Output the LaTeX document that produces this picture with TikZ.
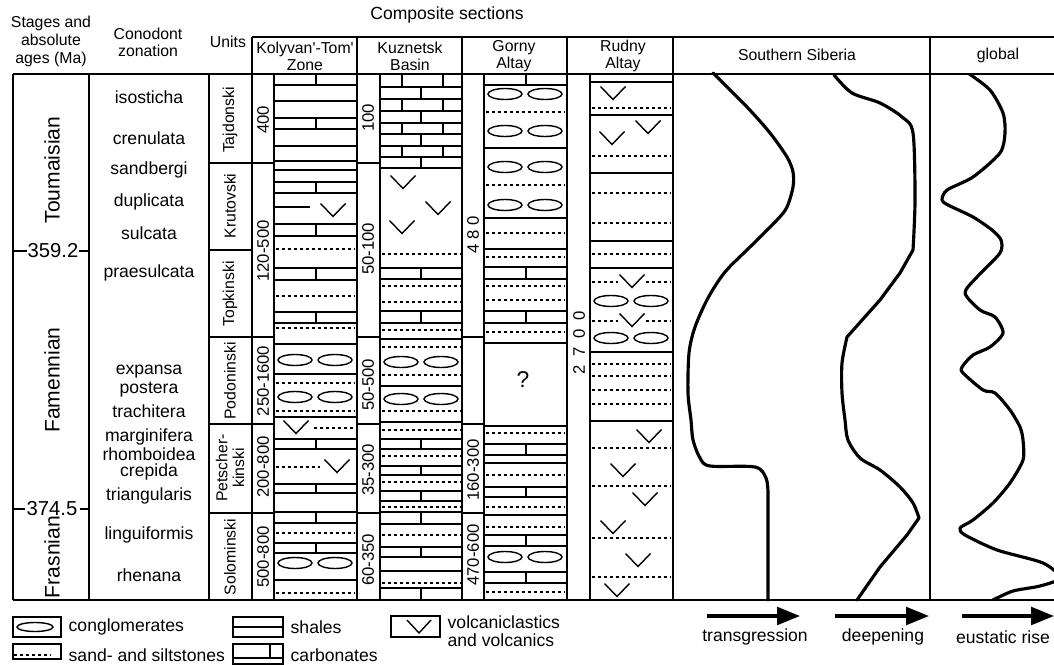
\documentclass[tikz,border=0pt]{standalone}
\usepackage{fontspec}
\setmainfont{Liberation Sans}
\usetikzlibrary{arrows.meta}
% litho symbols, column-local coordinates
\newcommand{\cgl}[1]{\draw (21,#1) ellipse (17 and 5.5); \draw (61,#1) ellipse (17 and 5.5);}
\newcommand{\vlc}[2]{\draw (#1-12.5,#2-6.5) -- (#1,#2+6.5) -- (#1+12.5,#2-6.5);}
\newcommand{\snd}[1]{\draw[sandln] (2,#1) -- (81,#1);}
\begin{document}
\begin{tikzpicture}[x=0.02cm,y=-0.02cm,line width=0.8pt,
  sandln/.style={line width=1.6pt,dash pattern=on 1.6pt off 1.8pt},
  crv/.style={line width=1.8pt,line join=round,line cap=round},
  hd/.style={font=\fontsize{9}{9.6}\selectfont,align=center,inner sep=0pt},
  zn/.style={font=\fontsize{10}{11}\selectfont,inner sep=0pt},
  stgname/.style={font=\fontsize{12}{13}\selectfont,rotate=90,inner sep=0pt},
  unitname/.style={font=\fontsize{9}{9.5}\selectfont,rotate=90,align=center,inner sep=0pt},
  thk/.style={font=\fontsize{9.5}{10}\selectfont,rotate=90,inner sep=0pt},
  lgd/.style={font=\fontsize{10}{10.3}\selectfont,anchor=west,align=left,inner sep=0pt},
  bigarr/.style={line width=1.9pt,-{Triangle[length=13pt,width=10pt]}}]
\fill[white] (0,0) rectangle (1054,665);
\useasboundingbox (0,0) rectangle (1054,665);

% frame
\draw (13,74) -- (1054,74);
\draw (13,600) -- (1054,600);
\draw (252,37) -- (1054,37);
\foreach \x in {252,357,462,567,673,930} \draw (\x,37) -- (\x,74);
\foreach \x in {13,89,209,252,274,357,380,462,484,567,590,673,930} \draw (\x,74) -- (\x,600);
\foreach \y in {163,250,337,424,513} \draw (209,\y) -- (252,\y);
\foreach \y in {163,337,424,513} {\draw (252,\y) -- (274,\y); \draw (357,\y) -- (380,\y);}
\foreach \y in {337,424,513} \draw (462,\y) -- (484,\y);

% headings
\draw (51,41) node[hd,font=\fontsize{9}{10.2}\selectfont] (hstg) {Stages and\\absolute\\ages (Ma)};
\draw (148,42) node[hd] (hcon) {Conodont\\zonation};
\draw (228,42) node[hd] (hunt) {Units};
\draw (447,15) node[hd,font=\fontsize{10}{11}\selectfont] (hcmp) {Composite sections};
\draw (305,56) node[hd] (hkol) {Kolyvan\textquotesingle-Tom\textquotesingle\\Zone};
\draw (410,56) node[hd] (hkuz) {Kuznetsk\\Basin};
\draw (514,56) node[hd] (hgor) {Gorny\\Altay};
\draw (623,56) node[hd] (hrud) {Rudny\\Altay};
\draw (797,55) node[hd] (hsib) {Southern Siberia};
\draw (998,55) node[hd] (hglb) {global};

% stages and ages
\draw (52,170) node[stgname] (toum) {Toumaisian};
\draw (52,380) node[stgname] (famn) {Famennian};
\draw (52,557) node[stgname] (frsn) {Frasnian};
\draw (13,251) -- (27,251) (79,251) -- (89,251);
\draw (53,251) node[zn,font=\fontsize{11.5}{12}\selectfont] (age1) {359.2};
\draw (13,509) -- (25,509) (80,509) -- (89,509);
\draw (52,509) node[zn,font=\fontsize{11.5}{12}\selectfont] (age2) {374.5};

% conodont zones
\foreach \y/\t in {97/isosticha,138/crenulata,170/sandbergi,202/duplicata,233/sulcata,
  273/praesulcata,372/expansa,390/postera,411/trachitera,437/marginifera,454/rhomboidea,
  472/crepida,496/triangularis,535/linguiformis,575/rhenana}
  {\draw (149,\y) node[zn] (z\y) {\t};}

% units and thicknesses
\draw (230,120) node[unitname] (u1) {Tajdonski};
\draw (230,206) node[unitname] (u2) {Krutovski};
\draw (230,294) node[unitname] (u3) {Topkinski};
\draw (230,381) node[unitname] (u4) {Podoninski};
\draw (230,468) node[unitname] (u5) {Petscher-\\kinski};
\draw (230,557) node[unitname] (u6) {Solominski};
\draw (263,120) node[thk] (k1) {400};
\draw (263,251) node[thk] (k2) {120-500};
\draw (263,381) node[thk] (k3) {250-1600};
\draw (263,467) node[thk] (k4) {200-800};
\draw (263,557) node[thk] (k5) {500-800};
\draw (368,118) node[thk] (b1) {100};
\draw (368,249) node[thk] (b2) {50-100};
\draw (368,385) node[thk] (b3) {50-500};
\draw (368,470) node[thk] (b4) {35-300};
\draw (368,560) node[thk] (b5) {60-350};
\draw (473,235) node[thk] (g1) {4 8 0};
\draw (473,470) node[thk] (g2) {160-300};
\draw (473,555) node[thk] (g3) {470-600};
\draw (579,343) node[thk] (r1) {2\hspace{5pt}7\hspace{5pt}0\hspace{5pt}0};

% Kolyvan'-Tom' Zone
\begin{scope}[shift={(274,0)}]
  \foreach \y in {85,101,118,129,146,161,170,182,193,224,236,268,280,312,323,344,374,417,
    439,449,484,493,512,523,543,553,580}
    {\draw (0,\y) -- (83,\y);}
  \foreach \a/\b in {74/85,118/129,182/193,224/236,268/280,312/323,439/449,484/493,512/523,543/553}
    {\draw (42,\a) -- (42,\b);}
  \foreach \y in {249,296,328,383,411,533,593} {\snd{\y}}
  \foreach \y in {360,397,563} {\cgl{\y}}
  \draw (0,207) -- (36,207);
  \vlc{59}{210}
  \vlc{22}{427}
  \draw[sandln] (40,428) -- (81,428);
  \draw[sandln] (2,467) -- (46,467);
  \vlc{63}{466}
\end{scope}

% Kuznetsk Basin
\begin{scope}[shift={(380,0)}]
  \foreach \y in {87,99,111,123,134,146,157,168,268,279,311,323,339,386,422,439,449,466,475,
    491,501,512,524,547,557,571,588}
    {\draw (0,\y) -- (82,\y);}
  \foreach \a/\b in {74/87,99/111,123/134,146/157} {\draw (22,\a) -- (22,\b); \draw (63,\a) -- (63,\b);}
  \foreach \a/\b in {87/99,111/123,134/146,157/168,268/279,311/323,439/449,466/475,491/501,
    512/524,547/557,588/600}
    {\draw (41,\a) -- (41,\b);}
  \foreach \y in {254,286,302,330,347,375,411,430,456,482,507,535,583} {\snd{\y}}
  \foreach \y in {362,399} {\cgl{\y}}
  \vlc{23}{182} \vlc{58}{208} \vlc{22}{227}
\end{scope}

% Gorny Altay
\begin{scope}[shift={(484,0)}]
  \foreach \y in {85,148,218,249,267,279,311,323,343,426,444,455,463,487,497,515,535,546,572,583}
    {\draw (0,\y) -- (83,\y);}
  \foreach \a/\b in {74/85,267/279,311/323,444/455,487/497,535/546,572/583}
    {\draw (42,\a) -- (42,\b);}
  \foreach \y in {112,185,233,257,286,300,332,433,475,507,527,592} {\snd{\y}}
  \foreach \y in {94,131,167,205,557} {\cgl{\y}}
  \draw (39,380) node[font=\fontsize{13}{13}\selectfont] (qm) {?};
\end{scope}

% Rudny Altay
\begin{scope}[shift={(590,0)}]
  \foreach \y in {82,115,173,241,268,352,421} {\draw (0,\y) -- (83,\y);}
  \foreach \y in {108,156,193,223,254,364,376,390,404,448,486,538,577} {\snd{\y}}
  \foreach \x/\y in {23/93,22/138,58/127,59/436,33/470,55/499,23/527,48/560,27/590} {\vlc{\x}{\y}}
  \foreach \y in {282,321} {
    \draw[sandln] (2,\y) -- (28,\y);
    \draw[sandln] (56,\y) -- (81,\y);
    \vlc{42}{\y-1}
  }
  \foreach \y in {301,338} {\cgl{\y}}
\end{scope}

% Southern Siberia: transgression and deepening
\draw[crv] plot[smooth,tension=0.5] coordinates {(713,73) (747,107) (770,133) (787,157)
  (793,172) (793,187) (787,207) (777,220) (750,247) (725,272) (708,298) (695,327) (689,353)
  (688,393) (691,420) (693,440) (700,458) (710,466) (755,467) (766,478) (768,492)} -- (768,600);
\draw[crv] plot[smooth,tension=0.5] coordinates {(834,75) (852,93) (880,103) (902,117)
  (913,133) (915,200) (913,250)} -- (900,273) -- (880,300) -- (847,337)
  plot[smooth,tension=0.5] coordinates {(847,337) (842,363) (842,393) (845,420) (848,440)
  (860,458) (880,470) (900,487) (913,503) (919,518)} -- (907,535) -- (880,567) -- (857,600);

% global: eustatic
\begin{scope}
  \clip (930,74) rectangle (1054,600);
  \draw[crv] plot[smooth,tension=0.45] coordinates {(968,73) (990,90) (1003,113) (1005,133)
    (1000,153) (973,177) (947,190) (942,200) (948,205) (973,217) (992,230) (1001,240)
    (1000,253) (977,277) (965,293) (980,310) (995,317) (1003,333) (990,347) (973,355)
    (962,367) (963,373) (983,390) (995,393) (1010,410) (1020,427) (1023,440) (1023,460)
    (1010,483) (993,503) (973,520) (960,528) (965,535) (997,550) (1043,563) (1060,578)
    (1040,586) (1013,591) (993,600)};
\end{scope}

% legend
\draw (13,617) rectangle (61,637);
\draw (35,627) ellipse (18 and 4.5);
\draw (68,627) node[lgd] (lcgl) {conglomerates};
\draw (13,644) rectangle (61,659);
\draw[sandln] (14,655) -- (50,655);
\draw (68,655) node[lgd] (lsnd) {sand- and siltstones};
\draw (233,617) rectangle (283,637);
\draw (233,627) -- (283,627);
\draw (290,627) node[lgd] (lshl) {shales};
\draw (233,644) rectangle (283,664);
\draw (233,658) -- (283,658) (270,644) -- (270,658);
\draw (290,655) node[lgd] (lcrb) {carbonates};
\draw (391,616) rectangle (440,637);
\draw (407,620) -- (419,633) -- (431,620);
\draw (447,631) node[lgd] (lvlc) {volcaniclastics\\and volcanics};

% trend arrows
\coordinate (tra) at (707,616); \coordinate (trb) at (800,616);
\coordinate (dpa) at (835,616); \coordinate (dpb) at (929,616);
\coordinate (eua) at (962,616); \coordinate (eub) at (1054,616);
\draw[bigarr] (tra) -- (trb);
\draw[bigarr] (dpa) -- (dpb);
\draw[bigarr] (eua) -- (eub);
\draw (755,637) node[zn] (ltr) {transgression};
\draw (883,637) node[zn] (ldp) {deepening};
\draw (1003,637) node[zn] (leu) {eustatic rise};
\end{tikzpicture}
\end{document}
